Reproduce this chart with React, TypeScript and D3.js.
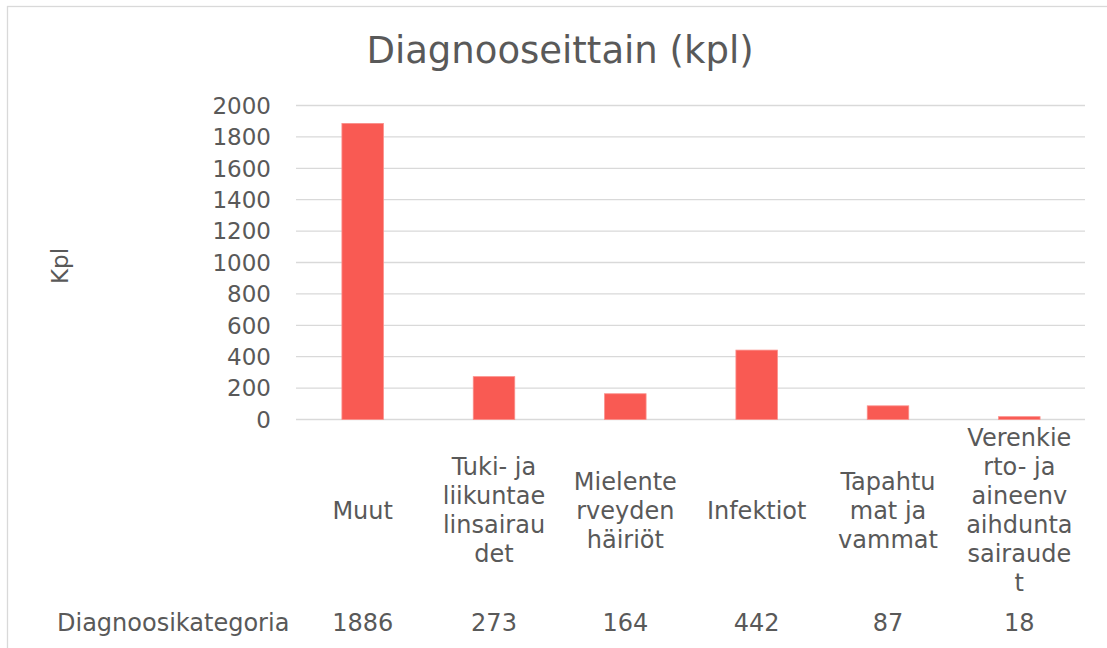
import React from "react";
import * as d3 from "d3";

const title = "Diagnooseittain (kpl)";
const yAxisTitle = "Kpl";
const rowHeader = "Diagnoosikategoria";
const categories = [
  "Muut",
  "Tuki- ja liikuntaelinsairaudet",
  "Mielenterveyden häiriöt",
  "Infektiot",
  "Tapahtumat ja vammat",
  "Verenkierto- ja aineenvaihduntasairaudet",
];
const categoryLines = [
  ["Muut"],
  ["Tuki- ja", "liikuntae", "linsairau", "det"],
  ["Mielente", "rveyden", "häiriöt"],
  ["Infektiot"],
  ["Tapahtu", "mat ja", "vammat"],
  ["Verenkie", "rto- ja", "aineenv", "aihdunta", "sairaude", "t"],
];
const values = [1886, 273, 164, 442, 87, 18];
const yTicks = [0, 200, 400, 600, 800, 1000, 1200, 1400, 1600, 1800, 2000];

const W = 1107;
const H = 648;
const textColor = "#595959";
const gridColor = "#d9d9d9";
const barColor = "#F95A53";
const font = "'DejaVu Sans', Verdana, sans-serif";

export default function App() {
  const plotLeft = 297;
  const plotRight = 1085;
  const x = d3
    .scaleBand<string>()
    .domain(categories)
    .range([plotLeft, plotRight])
    .paddingInner(0.684)
    .paddingOuter(0.342);
  const y = d3.scaleLinear().domain([0, 2000]).range([419.5, 105.5]);
  const labelCenterY = 510;
  const lineH = 29;
  const rowY = 622;

  return (
    <svg
      width={W}
      height={H}
      style={{ position: "absolute", left: 0, top: 0, background: "#fff" }}
      fontFamily={font}
    >
      <rect x={0} y={0} width={W} height={H} fill="#fff" />
      <rect x={7.5} y={6.5} width={1130} height={680} fill="none" stroke={gridColor} strokeWidth={1.3} />
      <text x={560} y={63} textAnchor="middle" fontSize={37} fill={textColor}>
        {title}
      </text>
      {yTicks.map((t) => (
        <g key={t}>
          <line x1={296} x2={plotRight} y1={y(t)} y2={y(t)} stroke={gridColor} strokeWidth={1.3} />
          <text x={271} y={y(t)} dy="0.36em" textAnchor="end" fontSize={23} fill={textColor}>
            {t}
          </text>
        </g>
      ))}
      <text
        transform={`translate(68,266) rotate(-90)`}
        textAnchor="middle"
        fontSize={23}
        fill={textColor}
      >
        {yAxisTitle}
      </text>
      {categories.map((c, i) => (
        <rect
          key={c}
          x={x(c)}
          y={y(values[i])}
          width={x.bandwidth()}
          height={y(0) - y(values[i])}
          fill={barColor}
          stroke="#fb8f8a"
          strokeWidth={0.8}
        />
      ))}
      {categories.map((c, i) => {
        const lines = categoryLines[i];
        const cx = (x(c) as number) + x.bandwidth() / 2;
        const top = labelCenterY - ((lines.length - 1) * lineH) / 2;
        return (
          <text key={c} textAnchor="middle" fontSize={24} fill={textColor}>
            {lines.map((l, j) => (
              <tspan key={j} x={cx} y={top + j * lineH} dy="0.36em">
                {l}
              </tspan>
            ))}
          </text>
        );
      })}
      <text x={57} y={rowY} dy="0.36em" fontSize={24} fill={textColor}>
        {rowHeader}
      </text>
      {categories.map((c, i) => (
        <text
          key={c}
          x={(x(c) as number) + x.bandwidth() / 2}
          y={rowY}
          dy="0.36em"
          textAnchor="middle"
          fontSize={24}
          fill={textColor}
        >
          {values[i]}
        </text>
      ))}
    </svg>
  );
}
